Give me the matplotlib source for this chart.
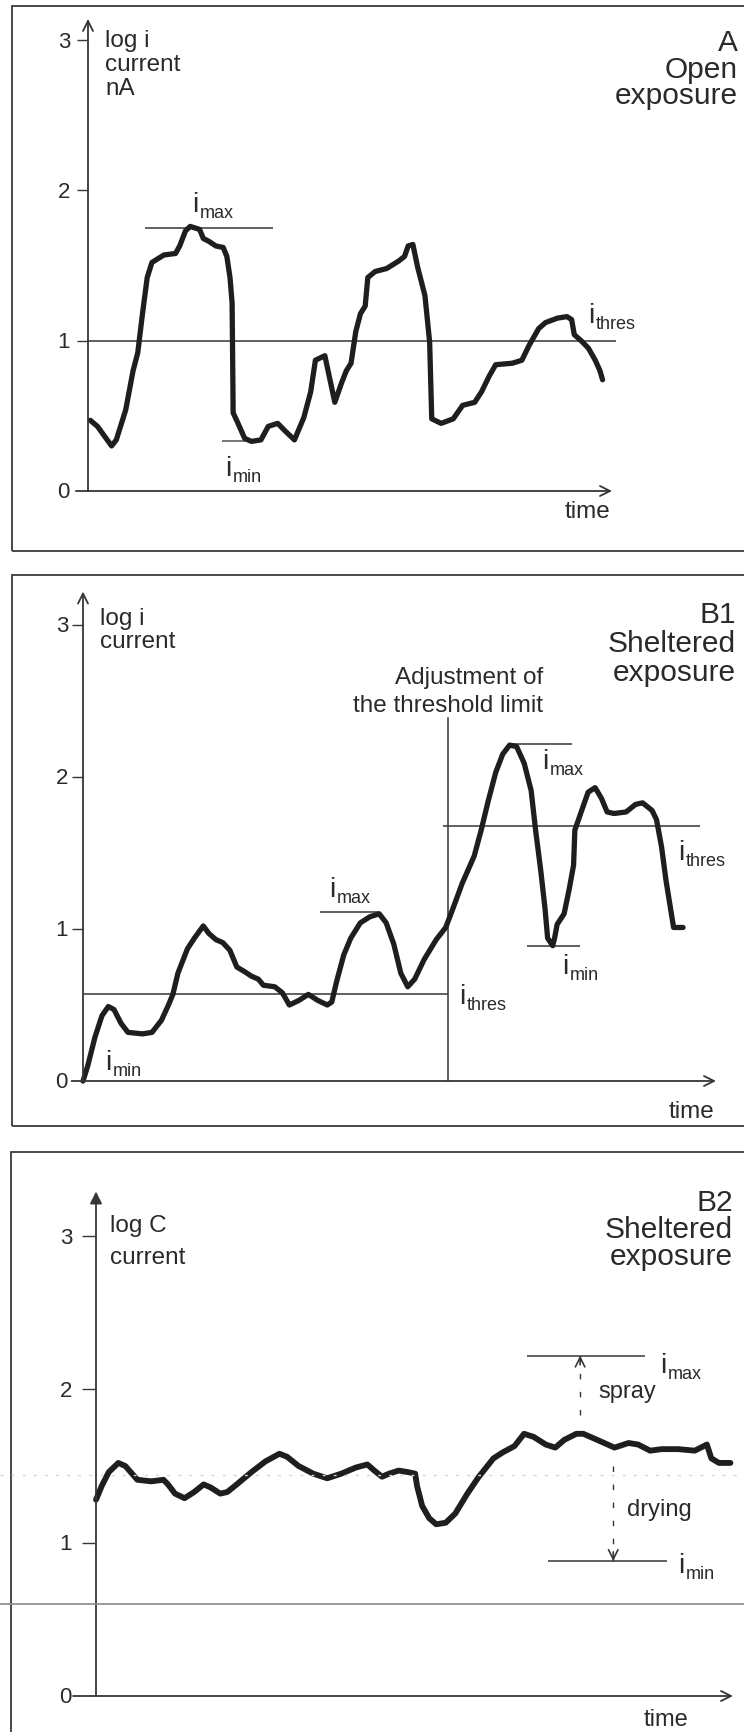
import matplotlib
matplotlib.use("Agg")
import matplotlib.pyplot as plt
from matplotlib.patches import Rectangle
from matplotlib.lines import Line2D

plt.rcParams['font.family'] = ['Liberation Sans', 'DejaVu Sans']

# ---------------- data ----------------
TICKS = [0, 1, 2, 3]

# Panel A (open exposure)
a_t = [0.45, 1.8, 4.5, 5.4, 7.2, 8.6, 9.5, 10.4, 11.3, 12.2, 13.1, 14.5, 16.7, 17.5, 18.6,
       19.5, 20.4, 21.3, 22.0, 23.1, 24.4, 25.8, 26.5, 27.1, 27.5, 27.6, 27.7, 28.5, 29.9, 31.2,
       33.0, 34.4, 36.2, 37.6, 39.4, 41.2, 42.5, 43.4, 45.2, 47.1, 48.4, 49.3, 50.2, 51.1, 52.0,
       52.9, 53.4, 54.8, 57.0, 59.3, 60.4, 61.1, 62.0, 62.9, 64.3, 65.2, 65.6, 67.4, 69.7, 71.5,
       73.8, 75.1, 76.5, 77.8, 81.0, 82.8, 84.2, 86.0, 87.3, 89.6, 91.4, 92.3, 92.8, 94.1, 95.5,
       96.8, 97.7, 98.2]
a_y = [0.47, 0.43, 0.30, 0.34, 0.54, 0.80, 0.92, 1.18, 1.42, 1.52, 1.54, 1.57, 1.58, 1.63, 1.73,
       1.76, 1.75, 1.74, 1.68, 1.66, 1.63, 1.62, 1.56, 1.42, 1.25, 0.90, 0.52, 0.46, 0.35, 0.33,
       0.34, 0.43, 0.45, 0.40, 0.34, 0.49, 0.66, 0.87, 0.90, 0.59, 0.72, 0.80, 0.85, 1.06, 1.18,
       1.23, 1.42, 1.46, 1.48, 1.53, 1.56, 1.63, 1.64, 1.49, 1.30, 0.99, 0.48, 0.45, 0.48, 0.57,
       0.59, 0.66, 0.76, 0.84, 0.85, 0.87, 0.97, 1.08, 1.12, 1.15, 1.16, 1.14, 1.04, 1.00, 0.95,
       0.87, 0.80, 0.74]
A_THRES = 1.0
A_IMAX = 1.75
A_IMAX_SPAN = [10.9, 35.3]
A_IMIN = 0.33
A_IMIN_SPAN = [25.5, 31.0]

# Panel B1 (sheltered exposure, adjusted threshold)
b1_t = [0.0, 0.75, 1.9, 3.0, 4.0, 4.9, 6.0, 7.1, 9.4, 10.9, 12.4, 13.5, 14.2, 15.0, 16.5,
        17.6, 19.0, 19.9, 21.0, 22.1, 23.2, 24.3, 25.5, 26.6, 27.7, 28.5, 30.3, 31.5, 32.6, 34.1,
        35.6, 37.1, 38.6, 39.3, 40.1, 41.2, 42.3, 43.8, 45.3, 46.8, 47.9, 49.1, 50.2, 51.3, 52.4,
        53.9, 55.8, 57.3, 58.4, 59.9, 61.8, 62.9, 64.0, 65.2, 66.3, 67.4, 68.5, 69.7, 70.8, 71.5,
        72.3, 73.0, 73.4, 74.2, 74.5, 74.9, 76.0, 76.8, 77.5, 77.7, 78.7, 79.8, 80.9, 81.9, 82.8,
        83.9, 85.8, 87.3, 88.4, 89.9, 90.6, 91.4, 92.1, 93.3, 94.8]
b1_y = [0.00, 0.10, 0.29, 0.43, 0.49, 0.47, 0.38, 0.32, 0.31, 0.32, 0.40, 0.50, 0.57, 0.71, 0.87,
        0.94, 1.02, 0.97, 0.93, 0.91, 0.86, 0.75, 0.72, 0.69, 0.67, 0.63, 0.62, 0.58, 0.50, 0.53,
        0.57, 0.53, 0.50, 0.52, 0.66, 0.83, 0.94, 1.04, 1.08, 1.10, 1.04, 0.90, 0.71, 0.62, 0.67,
        0.80, 0.93, 1.01, 1.13, 1.30, 1.48, 1.65, 1.84, 2.03, 2.15, 2.21, 2.20, 2.09, 1.91, 1.65,
        1.39, 1.13, 0.94, 0.89, 0.94, 1.03, 1.10, 1.26, 1.42, 1.65, 1.77, 1.90, 1.93, 1.86, 1.77,
        1.76, 1.77, 1.82, 1.83, 1.78, 1.72, 1.54, 1.32, 1.01, 1.01]
B1_ADJUST_T = 57.7
B1_ADJUST_TOP = 2.39
B1_THRES_LOW = 0.57
B1_THRES_LOW_SPAN = [0.0, 57.7]
B1_THRES_HIGH = 1.68
B1_THRES_HIGH_SPAN = [56.9, 97.5]
B1_IMAX1 = 1.11
B1_IMAX1_SPAN = [37.5, 46.8]
B1_IMAX2 = 2.22
B1_IMAX2_SPAN = [67.5, 77.3]
B1_IMIN = 0.89
B1_IMIN_SPAN = [70.1, 78.5]

# Panel B2 (sheltered exposure, log C)
b2_t = [0.0, 0.9, 2.0, 3.5, 4.6, 6.5, 8.7, 10.6, 11.3, 12.4, 13.9, 15.4, 16.9, 18.0, 19.5,
        20.6, 22.1, 24.4, 26.6, 28.8, 30.0, 31.8, 34.1, 36.3, 38.5, 40.8, 42.6, 43.7, 44.9, 46.0,
        47.5, 49.0, 50.1, 50.4, 51.2, 52.3, 53.4, 54.9, 56.4, 58.3, 60.1, 62.4, 63.9, 65.7, 67.2,
        68.7, 70.6, 72.1, 73.5, 75.4, 76.5, 78.7, 81.4, 83.6, 85.1, 87.0, 88.8, 91.4, 94.0, 95.9,
        96.6, 97.8, 99.6]
b2_y = [1.28, 1.37, 1.46, 1.52, 1.50, 1.41, 1.40, 1.41, 1.38, 1.32, 1.29, 1.33, 1.38, 1.36, 1.32,
        1.33, 1.38, 1.46, 1.53, 1.58, 1.56, 1.50, 1.45, 1.42, 1.45, 1.49, 1.51, 1.47, 1.43, 1.45,
        1.47, 1.46, 1.45, 1.37, 1.24, 1.16, 1.12, 1.13, 1.19, 1.32, 1.43, 1.55, 1.59, 1.63, 1.71,
        1.69, 1.64, 1.62, 1.67, 1.71, 1.71, 1.67, 1.62, 1.65, 1.64, 1.60, 1.61, 1.61, 1.60, 1.64,
        1.55, 1.52, 1.52]
B2_IMAX = 2.22
B2_IMAX_SPAN = [67.7, 86.2]
B2_IMIN = 0.88
B2_IMIN_SPAN = [71.0, 89.6]
B2_SPRAY_T = 76.0
B2_SPRAY_FROM = 1.83
B2_DRY_T = 81.2
B2_DRY_FROM = 1.50

# ---------------- style ----------------
W, H = 744, 1733
INK = '#1e1e1e'
LINE = '#363636'
TXT = '#2a2a2a'
CURVE_LW = 3.8
THIN_LW = 1.1

fig = plt.figure(figsize=(W / 100, H / 100), dpi=100)
fig.patch.set_facecolor('white')


def fx(px):
    return px / W


def fy(py):
    return 1 - py / H


def ftext(px, py, s, size, ha='left', va='baseline', **kw):
    fig.text(fx(px), fy(py), s, fontsize=size, ha=ha, va=va, color=TXT, **kw)


def ilabel(px, py, sub, size=20, subsize=13):
    em = size * 100 / 72.0
    ftext(px, py, 'i', size)
    ftext(px + 0.27 * em, py + 0.22 * em, sub, subsize)


def border(x0, y0, x1, y1):
    fig.add_artist(Rectangle((fx(x0), fy(y1)), fx(x1) - fx(x0), fy(y0) - fy(y1),
                             transform=fig.transFigure, fill=False, lw=1.3,
                             ec='#3a3a3a'))


def fline(x0, x1, py, **kw):
    fig.add_artist(Line2D([fx(x0), fx(x1)], [fy(py), fy(py)], transform=fig.transFigure, **kw))


def make_axes(x0, x1, y0, y3):
    ax = fig.add_axes([fx(x0), fy(y0), fx(x1) - fx(x0), fy(y3) - fy(y0)])
    ax.set_xlim(0, 100)
    ax.set_ylim(0, 3)
    ax.axis('off')
    return ax


def hline(ax, y, span, lw=THIN_LW, color=LINE, **kw):
    ax.plot(span, [y, y], color=color, lw=lw, clip_on=False, solid_capstyle='butt', **kw)


def axes_arrows(ax, top, xstart, head_top='->', ms=18):
    ax.annotate('', xy=(0, top), xytext=(0, 0),
                arrowprops=dict(arrowstyle=head_top, lw=1.3, color=LINE, fc=LINE,
                                shrinkA=0, shrinkB=0, mutation_scale=ms),
                annotation_clip=False)
    ax.annotate('', xy=(100, 0), xytext=(xstart, 0),
                arrowprops=dict(arrowstyle='->', lw=1.3, color=LINE,
                                shrinkA=0, shrinkB=0, mutation_scale=ms),
                annotation_clip=False)


def ticks(ax, t0, t1, y0px, y3px, label_right, size=16):
    for v in TICKS:
        if v != 0:
            hline(ax, v, [t0, t1], lw=1.0)
        py = y0px - v * (y0px - y3px) / 3.0
        ftext(label_right, py + 1, str(v), size, ha='right', va='center')


def dashed_arrow(ax, t, y_from, y_to):
    ax.plot([t, t], [y_from, y_to], color=LINE, lw=1.0, ls=(0, (4, 9)), clip_on=False)
    d = 0.06 if y_to > y_from else -0.06
    ax.annotate('', xy=(t, y_to), xytext=(t, y_to - d),
                arrowprops=dict(arrowstyle='->', lw=1.2, color=LINE,
                                shrinkA=0, shrinkB=0, mutation_scale=17),
                annotation_clip=False)


# ---------------- Panel A ----------------
border(12, 6.5, 760, 552)
A_X0, A_X1, A_Y0, A_Y3 = 88, 612, 492, 41
axA = make_axes(A_X0, A_X1, A_Y0, A_Y3)
axes_arrows(axA, 3.14, -2.3)
ticks(axA, -2.1, 0, A_Y0, A_Y3, 70, size=16)
hline(axA, A_THRES, [0, 100.8])
hline(axA, A_IMAX, A_IMAX_SPAN)
hline(axA, A_IMIN, A_IMIN_SPAN, color='#777777', lw=1.4)
axA.plot(a_t, a_y, color=INK, lw=CURVE_LW, clip_on=False,
         solid_joinstyle='round', solid_capstyle='round')
ftext(105, 47, 'log i', 17.5)
ftext(105, 71, 'current', 17.5)
ftext(105, 95, 'nA', 17.5)
ftext(738, 51, 'A', 21.5, ha='right')
ftext(738, 78, 'Open', 21.5, ha='right')
ftext(738, 104, 'exposure', 21.5, ha='right')
ftext(610, 518, 'time', 17.5, ha='right')
ilabel(192, 212, 'max')
ilabel(225, 476, 'min')
ilabel(588, 323, 'thres')

# ---------------- Panel B1 ----------------
border(12, 576, 760, 1127)
B_X0, B_X1, B_Y0, B_Y3 = 83, 716, 1082, 626
axB = make_axes(B_X0, B_X1, B_Y0, B_Y3)
axes_arrows(axB, 3.22, -1.8)
ticks(axB, -1.7, 0, B_Y0, B_Y3, 68, size=16)
hline(axB, B1_THRES_LOW, B1_THRES_LOW_SPAN)
hline(axB, B1_THRES_HIGH, B1_THRES_HIGH_SPAN)
axB.plot([B1_ADJUST_T, B1_ADJUST_T], [0, B1_ADJUST_TOP], color=LINE, lw=THIN_LW, clip_on=False)
hline(axB, B1_IMAX1, B1_IMAX1_SPAN)
hline(axB, B1_IMAX2, B1_IMAX2_SPAN)
hline(axB, B1_IMIN, B1_IMIN_SPAN)
axB.plot(b1_t, b1_y, color=INK, lw=CURVE_LW, clip_on=False,
         solid_joinstyle='round', solid_capstyle='round')
ftext(100, 625, 'log i', 17.5)
ftext(100, 648, 'current', 17.5)
ftext(736, 623, 'B1', 21.5, ha='right')
ftext(736, 652, 'Sheltered', 21.5, ha='right')
ftext(736, 681, 'exposure', 21.5, ha='right')
ftext(543, 684, 'Adjustment of', 17.5, ha='right')
ftext(543, 712, 'the threshold limit', 17.5, ha='right')
ftext(714, 1118, 'time', 17.5, ha='right')
ilabel(329, 897, 'max')
ilabel(105, 1070, 'min')
ilabel(459, 1004, 'thres')
ilabel(542, 769, 'max')
ilabel(678, 860, 'thres')
ilabel(562, 974, 'min')

# ---------------- Panel B2 ----------------
border(11, 1153, 760, 1760)
# scan artefact lines across the lower panel
fline(0, 744, 1605, color='#8a8a8a', lw=1.2)
fline(0, 744, 1476, color='#d4d4d4', lw=1.0, ls=(0, (2, 6)))
C_X0, C_X1, C_Y0, C_Y3 = 96, 733, 1697, 1237
axC = make_axes(C_X0, C_X1, C_Y0, C_Y3)
axes_arrows(axC, 3.29, -3.6, head_top='-|>', ms=18)
for v in TICKS:
    py = C_Y0 - v * (C_Y0 - C_Y3) / 3.0
    if v != 0:
        hline(axC, v, [-2.2, -0.2], lw=1.0)
    ftext(72, py + 1, str(v), 16, ha='right', va='center')
hline(axC, B2_IMAX, B2_IMAX_SPAN)
hline(axC, B2_IMIN, B2_IMIN_SPAN)
dashed_arrow(axC, B2_SPRAY_T, B2_SPRAY_FROM, B2_IMAX)
dashed_arrow(axC, B2_DRY_T, B2_DRY_FROM, B2_IMIN)
axC.plot(b2_t, b2_y, color=INK, lw=CURVE_LW + 0.4, clip_on=False,
         solid_joinstyle='round', solid_capstyle='round')
ftext(110, 1232, 'log C', 17.5)
ftext(110, 1264, 'current', 17.5)
ftext(733, 1211, 'B2', 21.5, ha='right')
ftext(733, 1238, 'Sheltered', 21.5, ha='right')
ftext(733, 1265, 'exposure', 21.5, ha='right')
ftext(598, 1398, 'spray', 17)
ftext(627, 1516, 'drying', 17)
ftext(688, 1726, 'time', 17, ha='right')
ilabel(660, 1373, 'max')
ilabel(678, 1573, 'min')

fig.savefig('out.png', dpi=100, facecolor='white')
